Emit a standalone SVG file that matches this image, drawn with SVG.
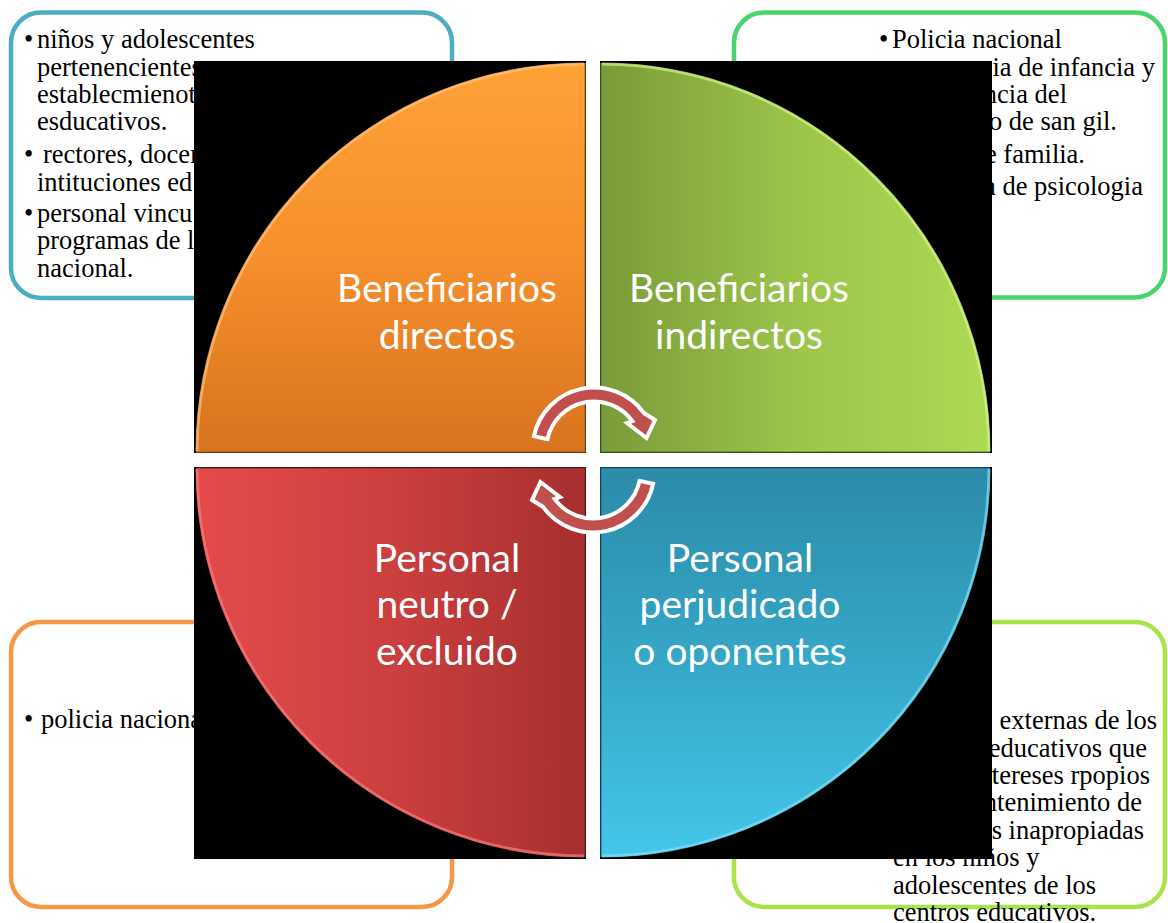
<svg xmlns="http://www.w3.org/2000/svg" xmlns:xlink="http://www.w3.org/1999/xlink" width="1168" height="923" viewBox="0 0 1168 923">
<style>
.box{fill:#fff;stroke-width:4.5}
.t{font-family:"Liberation Serif","Times New Roman",serif;font-size:26.5px;fill:#000}
.lbl{font-family:Lato,"Open Sans","Liberation Sans",sans-serif;font-size:39px;fill:#fff;text-anchor:middle}
.sq{fill:#000}
.rim{fill:none;stroke-width:3;stroke-opacity:0.7}
.arr{fill:#C0504D;stroke:#fff;stroke-width:4;stroke-linejoin:miter}
</style>
<defs>
<linearGradient id="gOr" x1="0" y1="0" x2="0" y2="1"><stop offset="0" stop-color="#FFA236"/><stop offset="0.5" stop-color="#F68F2C"/><stop offset="1" stop-color="#D8731F"/></linearGradient>
<linearGradient id="gGr" x1="0" y1="0" x2="1" y2="0"><stop offset="0" stop-color="#7A9B3A"/><stop offset="0.5" stop-color="#9CC44A"/><stop offset="1" stop-color="#ADDA54"/></linearGradient>
<linearGradient id="gRd" x1="0" y1="0" x2="1" y2="0"><stop offset="0" stop-color="#E44B4B"/><stop offset="0.5" stop-color="#CC3F3F"/><stop offset="1" stop-color="#A62F2F"/></linearGradient>
<linearGradient id="gBl" x1="0" y1="0" x2="0" y2="1"><stop offset="0" stop-color="#2B8BA8"/><stop offset="0.5" stop-color="#36A7C8"/><stop offset="1" stop-color="#44C6EA"/></linearGradient>
<path id="arrow" class="arr" d="M547.5,439.1 A47.5,47.5 0 0 1 632.4,421.1 L627,423 L646.5,438 L655,420 L643.8,412.9 A61.5,61.5 0 0 0 533.9,436.2 Z"/>
</defs>
<rect width="1168" height="923" fill="#fff"/>

<g id="box-tl">
<rect class="box" x="11" y="12.5" width="441" height="285.5" rx="30" stroke="#4BACC6"/>
<text class="t"><tspan x="24" y="48">•</tspan><tspan x="37" y="48">niños y adolescentes</tspan></text>
<text class="t" x="37" y="75.5">pertenencientes</text>
<text class="t" x="37" y="103">establecmienot</text>
<text class="t" x="37" y="130">esducativos.</text>
<text class="t"><tspan x="24" y="163">•</tspan><tspan x="43" y="163">rectores, docen</tspan></text>
<text class="t" x="37" y="190.5">intituciones ed</text>
<text class="t"><tspan x="24" y="222">•</tspan><tspan x="37" y="222">personal vincu</tspan></text>
<text class="t" x="37" y="249">programas de l</text>
<text class="t" x="37" y="276.5">nacional.</text>
</g>

<g id="box-tr">
<rect class="box" x="734" y="12.5" width="431" height="285" rx="30" stroke="#48D46C"/>
<text class="t"><tspan x="879" y="48">•</tspan><tspan x="892" y="48">Policia nacional</tspan></text>
<text class="t" x="1155" y="76" text-anchor="end">cia de infancia y</text>
<text class="t" x="1067" y="103" text-anchor="end">ncia del</text>
<text class="t" x="1117" y="130" text-anchor="end">io de san gil.</text>
<text class="t" x="1085" y="163" text-anchor="end">de familia.</text>
<text class="t" x="1143" y="195" text-anchor="end">ca de psicologia</text>
</g>

<g id="box-bl">
<rect class="box" x="11" y="622" width="441" height="285" rx="30" stroke="#F79646"/>
<text class="t"><tspan x="24" y="728">•</tspan><tspan x="41" y="728">policia nacional</tspan></text>
</g>

<g id="box-br">
<rect class="box" x="734" y="622" width="431" height="285" rx="30" stroke="#A9E34B"/>
<text class="t" x="1157" y="729" text-anchor="end">externas de los</text>
<text class="t" x="1147" y="756.5" text-anchor="end">educativos que</text>
<text class="t" x="1150" y="783.5" text-anchor="end">intereses rpopios</text>
<text class="t" x="1142" y="811" text-anchor="end">mantenimiento de</text>
<text class="t" x="1144" y="838.5" text-anchor="end">as inapropiadas</text>
<text class="t" x="893" y="866">en los niños y</text>
<text class="t" x="893" y="893.5">adolescentes de los</text>
<text class="t" x="893" y="921">centros educativos.</text>
</g>

<g id="q-tl">
<rect class="sq" x="194" y="61" width="392" height="392"/>
<path d="M585,452 L196,452 A389,389 0 0 1 585,63 Z" fill="url(#gOr)"/>
<path class="rim" d="M197,451 A388,388 0 0 1 584,64" stroke="#FFC27A"/>
<path d="M585,63 L585,452 L196,452" fill="none" stroke="#B8601A" stroke-width="2" stroke-opacity="0.6"/>
<text class="lbl"><tspan x="447" y="302">Beneficiarios</tspan><tspan x="447" y="349">directos</tspan></text>
</g>

<g id="q-tr">
<rect class="sq" x="600" y="61" width="392" height="392"/>
<path d="M601,452 L601,63 A389,389 0 0 1 990,452 Z" fill="url(#gGr)"/>
<path class="rim" d="M602,64 A388,388 0 0 1 989,451" stroke="#D2F58A"/>
<path d="M601,63 L601,452 L990,452" fill="none" stroke="#5E7E2A" stroke-width="2" stroke-opacity="0.6"/>
<text class="lbl"><tspan x="739" y="302">Beneficiarios</tspan><tspan x="739" y="349">indirectos</tspan></text>
</g>

<g id="q-bl">
<rect class="sq" x="194" y="467" width="392" height="392"/>
<path d="M585,468 L585,857 A389,389 0 0 1 196,468 Z" fill="url(#gRd)"/>
<path class="rim" d="M584,856 A388,388 0 0 1 197,469" stroke="#FF7A7A"/>
<path d="M196,468 L585,468 L585,857" fill="none" stroke="#8A2525" stroke-width="2" stroke-opacity="0.6"/>
<text class="lbl"><tspan x="447" y="572">Personal</tspan><tspan x="447" y="618">neutro /</tspan><tspan x="447" y="665">excluido</tspan></text>
</g>

<g id="q-br">
<rect class="sq" x="600" y="467" width="392" height="392"/>
<path d="M601,468 L990,468 A389,389 0 0 1 601,857 Z" fill="url(#gBl)"/>
<path class="rim" d="M989,469 A388,388 0 0 1 602,856" stroke="#7FE0FA"/>
<path d="M990,468 L601,468 L601,857" fill="none" stroke="#1F6F88" stroke-width="2" stroke-opacity="0.6"/>
<text class="lbl"><tspan x="740" y="572">Personal</tspan><tspan x="740" y="618">perjudicado</tspan><tspan x="740" y="665">o oponentes</tspan></text>
</g>

<g id="connectors">
<use xlink:href="#arrow" href="#arrow"/>
<use xlink:href="#arrow" href="#arrow" transform="rotate(180 593.5 460)"/>
</g>
</svg>
